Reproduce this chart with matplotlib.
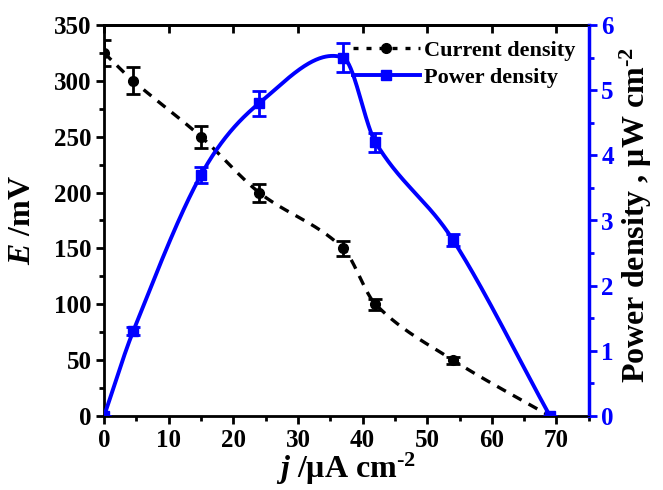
import numpy as np
import matplotlib
matplotlib.use('Agg')
import matplotlib.pyplot as plt
from matplotlib.ticker import MultipleLocator

# data
j = np.array([0, 4.5, 15, 24, 37, 42, 54, 69])          # uA cm-2
E = np.array([325, 300, 250, 200, 150, 100, 50, 0])     # mV
E_err = np.array([12, 12, 10, 8, 7, 5, 3, 0])
P = np.array([0, 1.3, 3.7, 4.8, 5.5, 4.2, 2.7, 0])      # uW cm-2
P_err = np.array([0, 0.06, 0.12, 0.19, 0.22, 0.15, 0.09, 0])


def smooth(x, y, xs):
    # cubic hermite through the points, tangents from neighbours
    m = np.empty(len(x))
    m[1:-1] = (y[2:] - y[:-2]) / (x[2:] - x[:-2])
    m[0] = (y[1] - y[0]) / (x[1] - x[0])
    m[-1] = (y[-1] - y[-2]) / (x[-1] - x[-2])
    k = np.clip(np.searchsorted(x, xs) - 1, 0, len(x) - 2)
    h = x[k + 1] - x[k]
    t = (xs - x[k]) / h
    return ((2*t**3 - 3*t**2 + 1) * y[k] + (t**3 - 2*t**2 + t) * h * m[k]
            + (-2*t**3 + 3*t**2) * y[k + 1] + (t**3 - t**2) * h * m[k + 1])


plt.rcParams['font.family'] = 'Liberation Serif'
plt.rcParams['font.weight'] = 'bold'
plt.rcParams['axes.labelweight'] = 'bold'
plt.rcParams['mathtext.fontset'] = 'custom'
plt.rcParams['mathtext.rm'] = 'Liberation Serif:bold'
plt.rcParams['mathtext.it'] = 'Liberation Serif:italic:bold'
plt.rcParams['mathtext.bf'] = 'Liberation Serif:bold'

fig = plt.figure(figsize=(6.63, 4.90), dpi=100)
ax = fig.add_axes([0.157, 0.151, 0.731, 0.798])
ax2 = ax.twinx()

js = np.linspace(j[0], j[-1], 500)

# E vs j
ax.plot(js, smooth(j, E, js), color='black', lw=2.4, dashes=(3, 2.4))
ax.errorbar(j[:-1], E[:-1], yerr=E_err[:-1], fmt='o', color='black', ms=7,
            capsize=5, elinewidth=2, capthick=2)
h1, = ax.plot([], [], color='black', lw=2.4, dashes=(1.5, 2.4), marker='o', ms=7,
              label='Current density')

# power density
ax2.plot(js, smooth(j, P, js), color='blue', lw=2.8)
ax2.errorbar(j, P, yerr=P_err, fmt='s', color='blue', ms=7,
             capsize=5, elinewidth=2, capthick=2)
h2, = ax2.plot([], [], color='blue', lw=2.8, marker='s', ms=7, label='Power density')

ax.set_xlim(0, 75)
ax.set_ylim(0, 350)
ax2.set_ylim(0, 6)

ax.xaxis.set_major_locator(MultipleLocator(10))
ax.xaxis.set_minor_locator(MultipleLocator(5))
ax.yaxis.set_major_locator(MultipleLocator(50))
ax.yaxis.set_minor_locator(MultipleLocator(25))
ax2.yaxis.set_major_locator(MultipleLocator(1))
ax2.yaxis.set_minor_locator(MultipleLocator(0.5))

ax.tick_params(axis='both', which='major', direction='out', length=6, width=2,
               labelsize=18, top=False, pad=3)
ax.tick_params(axis='both', which='minor', direction='out', length=3.5, width=2, top=False)
ax2.tick_params(axis='y', which='major', direction='out', length=6, width=2,
                labelsize=18, colors='blue', pad=3)
ax2.tick_params(axis='y', which='minor', direction='out', length=3.5, width=2, colors='blue')

# top ticks pointing inward
top = ax.secondary_xaxis('top')
top.xaxis.set_major_locator(MultipleLocator(10))
top.tick_params(direction='in', length=6, width=2, labeltop=False)
top.spines['top'].set_linewidth(2)

for s in ['left', 'bottom', 'top']:
    ax.spines[s].set_linewidth(2)
ax2.spines['right'].set_linewidth(2.5)
ax2.spines['right'].set_color('blue')
ax2.spines['left'].set_visible(False)
ax.spines['right'].set_visible(False)

ax.set_xlabel('$j$ /μA cm$^{\\mathrm{‐2}}$', fontsize=23)
ax.set_ylabel('$E$ /mV', fontsize=23)
ax2.set_ylabel('Power density , μW cm$^{\\mathrm{‐2}}$', fontsize=23, color='black')
ax.xaxis.set_label_coords(0.5, -0.088)
ax.yaxis.set_label_coords(-0.138, 0.5)
ax2.yaxis.set_label_coords(1.06, 0.514)

ax2.legend(handles=[h1, h2], loc='upper right', frameon=False, fontsize=16,
           handlelength=3, handletextpad=0.2, borderaxespad=0.2, labelspacing=0.3,
           bbox_to_anchor=(1.0, 0.995))

fig.savefig('out.png', dpi=100)
